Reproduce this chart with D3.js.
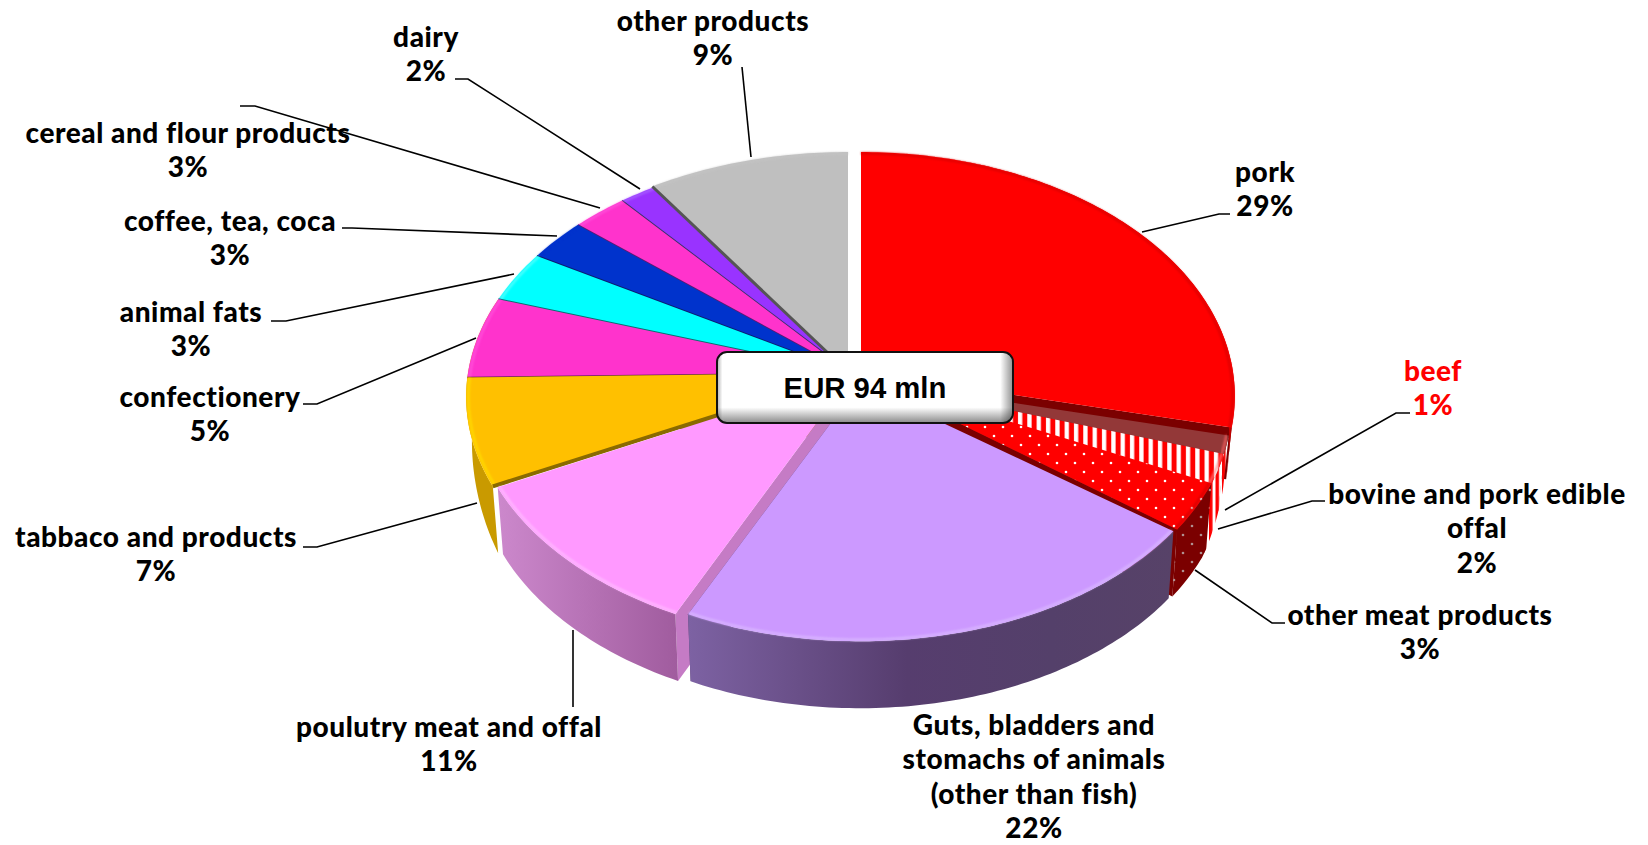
<!DOCTYPE html>
<html><head><meta charset="utf-8">
<script src="https://cdn.jsdelivr.net/npm/d3@7/dist/d3.min.js"></script>
<style>html,body{margin:0;background:#fff}svg{display:block}</style></head>
<body><svg id="c" width="1648" height="845"></svg>
<script>
// ---- data (labels show the rounded shares) ----
const categories = ["pork","beef","bovine and pork edible|offal","other meat products",
  "Guts, bladders and|stomachs of animals|(other than fish)","poulutry meat and offal",
  "tabbaco and products","confectionery","animal fats","coffee, tea, coca",
  "cereal and flour products","dairy","other products"];
const values = [28.6,1.2,2.2,3.2,21.8,10.6,7.1,5.4,3.4,2.8,2.6,1.7,9.4];
const totalLabel = "EUR 94 mln";

// ---- styling / layout, per category, same order ----
const topColors  = ["#ff0000","#933838","url(#stripes)","url(#dots)","#cc99ff","#ff99ff","#ffc000","#ff33cc","#00ffff","#0033cc","#ff33cc","#9933ff","#bfbfbf"];
const wallFills  = ["#c00000","url(#stripesWall)","url(#stripesWall)","url(#dotsDark)","url(#gGuts)","url(#gPoul)","#c99a00","#c99a00"];
const cutColors  = ["#7b0000","#933838","#8c2020","#7b0000","#5a4270","#c57bc5","#8a6a00","#66205f","#0a7070","#0a1f70","#5a1a70","#333366","#555555"];
const rimColors  = ["#d80000","#ff6060","#ff8080","#d00000","#dcbcff","#ffc0ff","#ffe000","#ff55dd","#66ffff","#0033cc","#ff55dd","#aa66ff","#c4c4c4"];
const apexX  = [861,862,862,862,860,853,850,850,850,850,850,850,848];
const apexY  = [372,380,380,376,384,374,373,373,373,373,373,373,372];
const radX   = [372,368,368,370,368,380,382,382,382,382,382,382,380];
const radY   = [1,1,1,1,.96,1,1,1,1,1,1,1,1];
const depth  = 67, Ry = 241.6, k = 0.0983, bottomX = 0.985;
const drawOrder = [11,10,9,8,7,12,0,1,2,3,6,5,4];
const labelX  = [1265,1433,1477,1420,1034,449,156,210,191,230,188,426,713];
const labelY  = [172,371,494,615,725,727,537,397,312,221,133,37,21];
const labelFill = ["#000","#ff0000","#000","#000","#000","#000","#000","#000","#000","#000","#000","#000","#000"];
const leaders = [
  [[1142,232],[1219,214],[1230,214]],
  [[1225,510],[1396,413],[1410,413]],
  [[1218,529],[1312,501],[1325,501]],
  [[1195,570],[1272,623],[1285,623]],
  null,
  [[573,630],[573,707]],
  [[477,503],[317,547],[303,547]],
  [[476,338],[317,404],[303,404]],
  [[514,274],[286,321],[271,321]],
  [[557,236],[352,228],[342,228]],
  [[600,208],[255,106],[240,106]],
  [[640,189],[468,79],[455,79]],
  [[751,157],[742,67]]
];

const svg = d3.select("#c");
const defs = svg.append("defs");

function stripes(id,w,x,sw){
  const st = defs.append("pattern").attr("id",id).attr("patternUnits","userSpaceOnUse").attr("width",w).attr("height",9);
  st.append("rect").attr("width",w).attr("height",9).attr("fill","#ff0000");
  st.append("rect").attr("x",x).attr("width",sw).attr("height",9).attr("fill","#ffffff");
}
stripes("stripes",9.33,1,4.3);
stripes("stripesWall",6.5,3.5,3);

function dots(id,bg,fg){
  const p = defs.append("pattern").attr("id",id).attr("patternUnits","userSpaceOnUse").attr("width",18).attr("height",18);
  p.append("rect").attr("width",18).attr("height",18).attr("fill",bg);
  p.append("circle").attr("cx",4).attr("cy",4).attr("r",1.3).attr("fill",fg);
  p.append("circle").attr("cx",13).attr("cy",13).attr("r",1.3).attr("fill",fg);
}
dots("dots","#ff0000","#ffffff");
dots("dotsDark","#7b0000","#b09090");

function grad(id,stops,vertical){
  const g = defs.append("linearGradient").attr("id",id);
  if(vertical) g.attr("x1",0).attr("y1",0).attr("x2",0).attr("y2",1);
  stops.forEach(s=>g.append("stop").attr("offset",s[0]).attr("stop-color",s[1]).attr("stop-opacity",s[2]===undefined?1:s[2]));
}
grad("gGuts",[[0,"#7d62a3"],[.45,"#563d6e"],[.75,"#54406a"],[1,"#574268"]]);
grad("gPoul",[[0,"#cc88cc"],[1,"#a05c9e"]]);
grad("gBoxV",[[0,"#ffffff"],[.78,"#ffffff"],[1,"#8a8a8a"]],true);
grad("gBoxH",[[0,"#000",.25],[.015,"#000",0],[.96,"#000",0],[1,"#000",.4]]);
defs.append("filter").attr("id","soft").append("feGaussianBlur").attr("stdDeviation",.8);

const pie = d3.pie().sort(null).value(d=>d).startAngle(0).endAngle(2*Math.PI);
const arcs = pie(values);
const line = d3.line();

// perspective projection of a point on the unit circle; the wall is lower towards the sides
function proj(i,a,lower=false){
  const u=Math.sin(a), v=Math.cos(a), w=1+k*v;
  const sx = lower ? bottomX : 1;
  const dy = lower ? depth*Math.max(0,Math.min(1,.55-v)) : 0;
  return [apexX[i]+radX[i]*sx*u/w, apexY[i]-Ry*radY[i]*v/w+dy];
}
function rim(i,lower=false,inset=1){
  const a0=arcs[i].startAngle,a1=arcs[i].endAngle,n=Math.max(8,Math.ceil((a1-a0)*60));
  return d3.range(n+1).map(j=>{
    const p=proj(i,a0+(a1-a0)*j/n,lower);
    return inset===1?p:[apexX[i]+(p[0]-apexX[i])*inset, apexY[i]+(p[1]-apexY[i])*inset];
  });
}
const plot = svg.append("g");
drawOrder.forEach(i=>{
  const g = plot.append("g").attr("class","slice");
  const top = rim(i), bottom = rim(i,true);
  const apex=[apexX[i],apexY[i]], apexB=[apexX[i],apexY[i]+depth];
  // only the front slices show a cut face; poultry shows its own start side in the gap next to guts
  if(i<7){
    const e = i===5 ? 0 : top.length-1;
    g.append("path").attr("d",line([apex,top[e],bottom[e],apexB])+"Z").attr("fill",cutColors[i]);
  }
  if(i<8){
    g.append("path").attr("d",line(top.concat(bottom.slice().reverse()))+"Z").attr("fill",wallFills[i]);
  }
  // top face
  g.append("path").attr("d",line([apex].concat(top))+"Z").attr("fill",topColors[i]);
  // bevel along the rim
  g.append("path").attr("d",line(rim(i,false,.994))).attr("fill","none").attr("stroke",rimColors[i])
    .attr("stroke-width",2.2).attr("filter","url(#soft)").attr("opacity",.85);
  // seam on the start edge
  if(i>=6) g.append("path").attr("d",line([apex,top[0]])).attr("fill","none")
    .attr("stroke",cutColors[i]).attr("stroke-width",i===12?3:i===6?4:1.8);
});

// leader lines
svg.append("g").selectAll("path").data(leaders.filter(d=>d)).join("path")
  .attr("d",d=>line(d)).attr("fill","none").attr("stroke","#000").attr("stroke-width",1.6);

// labels
const pct = d3.format(".0%");
const lh = 34.4, baselineShift = 10;
const lab = svg.append("g").attr("font-family","Lato, sans-serif").attr("font-weight",900)
  .attr("font-size",28).attr("letter-spacing",.55).attr("text-anchor","middle");
categories.forEach((c,i)=>{
  const lines=c.split("|").concat(pct(values[i]/100));
  const t=lab.append("text").attr("x",labelX[i]).attr("y",labelY[i]+baselineShift).attr("fill",labelFill[i]);
  lines.forEach((s,j)=>t.append("tspan").attr("x",labelX[i]).attr("y",labelY[i]+baselineShift+j*lh).text(s));
});

// central box
const box = svg.append("g");
box.append("rect").attr("x",717).attr("y",352).attr("width",296).attr("height",71).attr("rx",10).attr("fill","url(#gBoxV)").attr("stroke","#111").attr("stroke-width",2);
box.append("rect").attr("x",718).attr("y",353).attr("width",294).attr("height",69).attr("rx",9).attr("fill","url(#gBoxH)");
box.append("text").attr("x",865).attr("y",398).attr("text-anchor","middle")
  .attr("font-family","Liberation Sans, Arial, sans-serif").attr("font-weight",700).attr("font-size",29.3).text(totalLabel);
</script></body></html>
